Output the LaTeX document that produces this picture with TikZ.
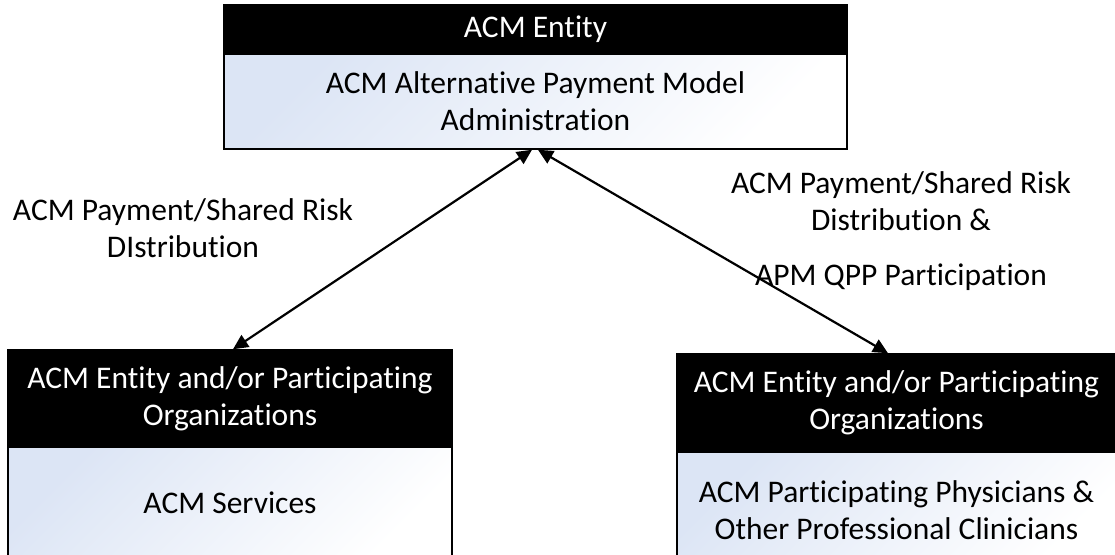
\documentclass[tikz,border=0pt]{standalone}
\usepackage{fontspec}
\setmainfont{Carlito}[Ligatures={NoCommon,NoContextual}]
\usetikzlibrary{arrows.meta,calc}
\definecolor{bodyblue}{HTML}{DCE5F5}
\begin{document}
\begin{tikzpicture}[x=1pt,y=-1pt,
  txt/.style={font=\fontsize{31.5}{37}\selectfont, align=center},
  head/.style={txt, rectangle, draw=black, fill=black, text=white, inner sep=0pt, line width=1.5pt},
  body/.style={txt, rectangle, draw=black, top color=white, bottom color=bodyblue, shading angle=225, inner sep=0pt, line width=1.5pt},
  lbl/.style={txt},
  link/.style={line width=2.2pt, {Triangle[length=15pt,width=14pt]}-{Triangle[length=15pt,width=14pt]}}
]
\useasboundingbox (0,0) rectangle (1115,554);
\clip (0,0) rectangle (1115,554);
\fill[white] (0,0) rectangle (1115,554);

% top box
\node[head, minimum width=623pt, minimum height=49pt] (thead) at (535.5,29.5) {ACM Entity};
\node[body, minimum width=623pt, minimum height=95pt] (tbody) at (535.5,101.5) {ACM Alternative Payment Model\\Administration};

% left box
\node[body, minimum width=444pt, minimum height=112pt] (lbody) at (230,503) {ACM Services};
\node[head, minimum width=444pt, minimum height=97pt] (lhead) at (230,398.5) {ACM Entity and/or Participating\\Organizations};

% right box
\node[body, minimum width=439pt, minimum height=116pt] (rbody) at (896.5,510) {ACM Participating Physicians \&\\Other Professional Clinicians};
\node[head, minimum width=439pt, minimum height=98pt] (rhead) at (896.5,403) {ACM Entity and/or Participating\\Organizations};

% labels
\node[lbl] (llbl) at (183,228) {ACM Payment/Shared Risk\\DIstribution};
\node[lbl] (rlbl) at (901,231) {ACM Payment/Shared Risk\\Distribution \&\\[18pt]APM QPP Participation};

% connectors
\draw[link] ([xshift=-3.5pt]tbody.south) -- ([xshift=3pt]lhead.north);
\draw[link] ([xshift=2.5pt]tbody.south) -- ([xshift=-8.5pt]rhead.north);
\end{tikzpicture}
\end{document}
